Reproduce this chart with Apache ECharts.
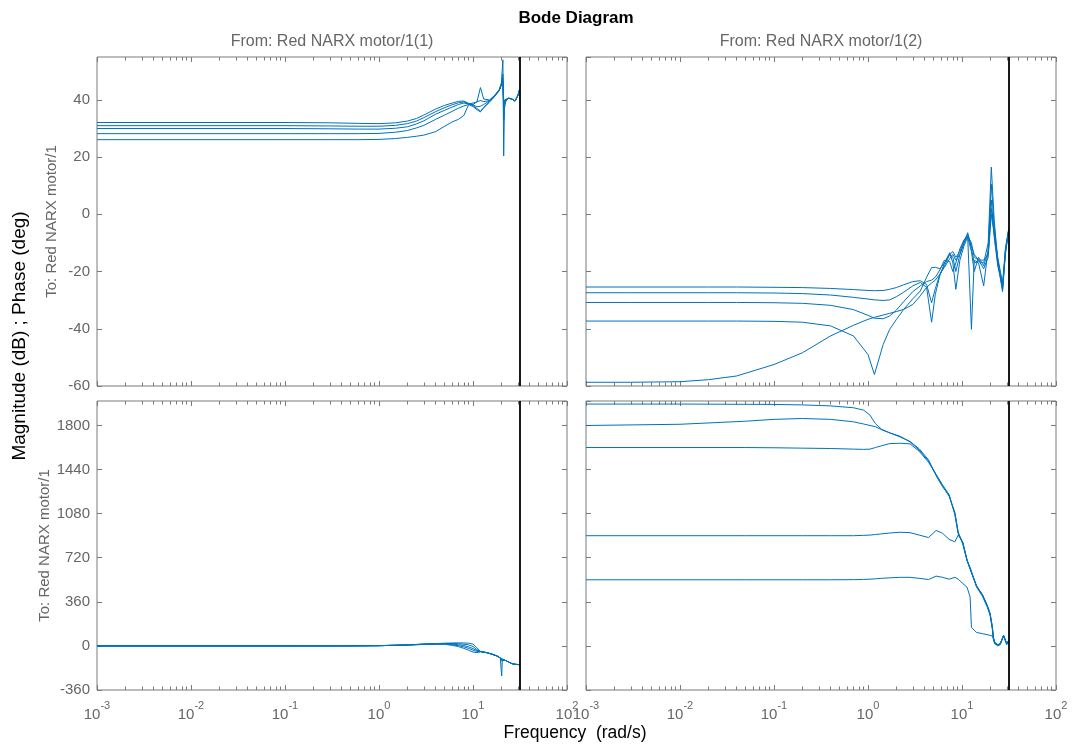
<!DOCTYPE html>
<html>
<head>
<meta charset="utf-8">
<script src="https://cdn.jsdelivr.net/npm/echarts@6/dist/echarts.min.js"></script>
<style>
  html, body { margin: 0; padding: 0; background: #fff; }
  #chart { width: 1074px; height: 744px; }
</style>
</head>
<body>
<div id="chart"></div>
<script>
// ---- Bode response of the NARX motor model: 5 linearised models, 2 inputs ----

// Nyquist frequency (rad/s), drawn as a vertical black line in every panel
const NYQUIST = 31.4159;

// Input 1 -> output: magnitude (dB)
const freqMag11 = [0.001, 0.01, 0.1, 0.3, 0.6, 1, 1.5, 2, 2.5, 3, 4, 5, 6, 7, 8, 9, 10, 11, 12, 13, 15, 17, 19, 20, 20.8, 21.2, 21.6, 22.5, 24, 26, 28, 30, 31.4];
const mag11a = [32.1, 32.1, 32.1, 32.0, 31.8, 31.7, 32.0, 32.6, 33.5, 34.7, 36.8, 38.1, 38.9, 39.5, 39.6, 38.8, 38.3, 37.6, 37.8, 38.4, 39.7, 41.5, 43.4, 45.5, 54.0, 20.4, 37.0, 40.0, 40.6, 40.3, 39.6, 41.5, 43.7];
const mag11b = [31.0, 31.0, 31.0, 30.9, 30.8, 30.8, 31.1, 31.7, 32.6, 33.8, 35.9, 37.3, 38.3, 39.0, 39.3, 38.6, 38.0, 37.0, 36.1, 37.2, 39.2, 41.2, 43.2, 45.0, 49.0, 33.0, 38.5, 39.8, 40.6, 40.3, 39.6, 41.5, 43.7];
const mag11c = [30.0, 30.0, 30.0, 29.9, 29.8, 29.8, 30.1, 30.6, 31.6, 32.7, 35.0, 36.4, 37.5, 38.4, 38.9, 38.6, 38.9, 39.3, 44.3, 40.3, 40.0, 41.6, 43.6, 45.7, 47.5, 37.0, 39.5, 39.9, 40.6, 40.3, 39.6, 41.5, 43.7];
const mag11d = [28.2, 28.2, 28.2, 28.2, 28.2, 28.3, 28.7, 29.3, 30.2, 31.1, 33.2, 34.7, 36.0, 37.1, 37.9, 38.4, 38.4, 39.3, 39.8, 39.4, 39.8, 41.5, 43.4, 45.3, 46.5, 38.5, 39.8, 39.8, 40.6, 40.3, 39.6, 41.5, 43.7];
const mag11e = [26.1, 26.1, 26.1, 26.1, 26.1, 26.2, 26.5, 26.9, 27.3, 27.7, 28.9, 30.8, 32.3, 33.2, 34.6, 38.4, 37.7, 36.6, 35.8, 37.4, 39.5, 41.3, 43.3, 45.2, 46.0, 39.0, 40.0, 39.9, 40.6, 40.3, 39.6, 41.5, 43.7];

// Input 2 -> output: magnitude (dB)
const freqMag12 = [0.001, 0.003, 0.01, 0.02, 0.04, 0.1, 0.2, 0.4, 0.7, 1.0, 1.17, 1.45, 1.7, 2.0, 2.4, 3.0, 3.6, 4.2, 4.75, 5.2, 5.8, 6.5, 7.4, 8.0, 8.6, 9.5, 10.5, 11.5, 12.6, 13.5, 15, 17, 19, 20.5, 22, 24, 27, 29, 31.4];
const mag12a = [-25.4, -25.4, -25.4, -25.4, -25.4, -25.5, -25.6, -25.9, -26.3, -26.6, -26.7, -26.6, -26.2, -25.6, -24.6, -23.5, -23.2, -24.5, -30.9, -26, -21, -18, -14, -15, -20, -14, -10, -6.4, -12, -17, -16.5, -17, -10, 16.5, -2, -16, -26.5, -14, -5.2];
const mag12b = [-27.4, -27.4, -27.4, -27.4, -27.4, -27.5, -27.7, -28.2, -29.0, -29.6, -29.9, -30.1, -29.9, -28.8, -27.2, -25.0, -23.8, -25.5, -37.7, -28, -21.5, -17, -13.4, -17, -26.2, -16, -11, -8, -40.2, -16, -17, -25, -12, 10.5, -4, -17, -27, -12, -5.5];
const mag12c = [-30.8, -30.8, -30.8, -30.8, -30.8, -30.9, -31.1, -31.8, -33.3, -35.3, -36.3, -36.5, -35.5, -33.5, -30.5, -27.0, -25.0, -23.5, -23.0, -22, -19.5, -16, -16.5, -20, -17, -12, -9, -8, -13, -20, -15, -18, -13, 5, -8, -18, -25, -13, -6];
const mag12d = [-37.3, -37.3, -37.3, -37.3, -37.3, -37.4, -37.7, -39.0, -42.5, -49.0, -56.0, -45.5, -40.2, -36.8, -33.2, -29.5, -26.8, -22, -18.6, -18.5, -19, -17, -14, -13, -15, -13, -9, -7, -11, -14, -16, -16, -14, 2, -6, -15, -24, -12, -5];
const mag12e = [-58.7, -58.7, -58.5, -57.8, -56.5, -52.5, -48.4, -42.5, -38.8, -36.7, -36.0, -35.2, -34.6, -34.0, -33.2, -31.5, -28.5, -25.5, -24.0, -23, -21, -18.5, -15.5, -14, -16, -14, -10, -7.5, -10, -15, -16, -19, -15, 0, -7, -16, -25.5, -13, -5.5];

// Input 1 -> output: phase (deg)
const freqPh11 = [0.001, 0.01, 0.1, 0.5, 1, 2, 3, 4, 5, 6, 7, 8, 9, 10, 11, 12, 14, 16, 18, 19.5, 20.2, 20.5, 21, 22, 24, 26, 28, 30, 31.4];
const ph11a = [0, 0, 0, 0.5, 2, 8, 15, 19, 22, 24, 25, 24, 22, 15, -15, -45, -55, -68, -82, -98, -245, -110, -112, -118, -132, -145, -150, -152, -153];
const ph11b = [0, 0, 0, 0.5, 2, 8, 15, 18, 20, 20, 18, 14, 8, -5, -30, -45, -55, -68, -82, -98, -120, -105, -110, -118, -132, -145, -150, -152, -153];
const ph11c = [0, 0, 0, 0.5, 2, 8, 14, 17, 18, 15, 10, 3, -8, -22, -38, -46, -55, -68, -82, -98, -118, -105, -110, -118, -132, -145, -150, -152, -153];
const ph11d = [0, 0, 0, 0.5, 2, 7, 13, 16, 16, 10, 2, -8, -20, -35, -45, -47, -55, -68, -82, -98, -116, -105, -110, -118, -132, -145, -150, -152, -153];
const ph11e = [0, 0, 0, 0.5, 2, 7, 12, 14, 13, 5, -6, -20, -35, -50, -55, -48, -55, -68, -82, -98, -114, -105, -110, -118, -132, -145, -150, -152, -153];

// Input 2 -> output: phase (deg)
const freqPh12 = [0.001, 0.01, 0.05, 0.1, 0.2, 0.4, 0.7, 0.9, 1.05, 1.2, 1.4, 1.7, 2.2, 2.8, 3.5, 4.4, 5.3, 6.2, 7.3, 8.4, 9.1, 10.2, 11.3, 12.2, 12.6, 14.3, 16.5, 18.5, 19.9, 21, 21.6, 22.3, 24, 25.5, 27.7, 29.9, 31.4];
const ph12a = [1975, 1975, 1973, 1972, 1968, 1960, 1945, 1925, 1885, 1815, 1768, 1740, 1712, 1666, 1600, 1510, 1400, 1310, 1220, 1090, 930, 830, 700, 630, 600, 493, 415, 330, 260, 150, 60, 25, 5, 15, 85, 15, 43];
const ph12b = [1800, 1810, 1835, 1850, 1857, 1850, 1830, 1812, 1800, 1790, 1765, 1740, 1706, 1670, 1610, 1520, 1390, 1300, 1230, 1080, 925, 840, 700, 640, 610, 480, 405, 320, 250, 140, 50, 20, 0, 10, 80, 10, 40];
const ph12c = [1620, 1620, 1620, 1618, 1615, 1612, 1607, 1605, 1607, 1620, 1635, 1652, 1655, 1650, 1590, 1500, 1400, 1315, 1235, 1070, 915, 845, 705, 630, 600, 485, 420, 335, 265, 160, 70, 30, 10, 20, 85, 20, 45];
const ph12d = [900, 900, 900, 900, 900, 900, 900, 903, 905, 910, 915, 922, 928, 925, 905, 885, 943, 920, 870, 850, 905, 845, 700, 630, 600, 485, 415, 330, 262, 155, 65, 28, 8, 18, 85, 18, 44];
const ph12e = [540, 540, 540, 540, 540, 540, 541, 543, 545, 548, 552, 556, 560, 560, 552, 542, 570, 560, 545, 560, 545, 510, 480, 400, 150, 110, 100, 92, 86, 80, 60, 16, 10, 16, 84, 20, 30];

// Axis ranges
const freqRange = [0.001, 100];
const magRange = { min: -60, max: 55, interval: 20 };
const phaseRange = { min: -360, max: 2000, interval: 360 };

// Text
const titleText = 'Bode Diagram';
const inputNames = ['From: Red NARX motor/1(1)', 'From: Red NARX motor/1(2)'];
const outputName = 'To: Red NARX motor/1';
const yTitle = 'Magnitude (dB) ; Phase (deg)';
const xTitle = 'Frequency  (rad/s)';

// ---- styling ----
const FONT = '"Liberation Sans", Arial, Helvetica, sans-serif';
const FRAME = '#7a7a7a';
const TEXT_GRAY = '#666666';
const BLUE = '#0072BD';

const gridBoxes = [
  { left: 97, top: 57, width: 470, height: 329 },
  { left: 586, top: 57, width: 470, height: 329 },
  { left: 97, top: 401, width: 470, height: 289 },
  { left: 586, top: 401, width: 470, height: 289 }
];

const panels = [
  { freq: freqMag11, curves: [mag11a, mag11b, mag11c, mag11d, mag11e], range: magRange },
  { freq: freqMag12, curves: [mag12a, mag12b, mag12c, mag12d, mag12e], range: magRange },
  { freq: freqPh11, curves: [ph11a, ph11b, ph11c, ph11d, ph11e], range: phaseRange },
  { freq: freqPh12, curves: [ph12a, ph12b, ph12c, ph12d, ph12e], range: phaseRange }
];

// minor log ticks (2..9 in every decade), expressed in log10 units
const minorTickPos = [];
for (let d = -3; d < 2; d++) {
  for (let k = 2; k <= 9; k++) minorTickPos.push(d + Math.log10(k));
}

const tickStyle = { color: FRAME, width: 1 };

const grid = gridBoxes.map(b => Object.assign({
  show: true, borderColor: FRAME, borderWidth: 1, backgroundColor: 'transparent', containLabel: false
}, b));

const xAxis = [];
const yAxis = [];
const series = [];

panels.forEach((p, g) => {
  const bottomRow = g >= 2;
  const leftCol = g % 2 === 0;

  ['bottom', 'top'].forEach(pos => {
    xAxis.push({
      type: 'log', logBase: 10, gridIndex: g, position: pos,
      min: freqRange[0], max: freqRange[1],
      axisLine: { show: false, onZero: false },
      axisTick: { show: true, inside: true, length: 5, lineStyle: tickStyle },
      splitLine: { show: false },
      axisLabel: (bottomRow && pos === 'bottom') ? {
        show: true, margin: 10,
        formatter: v => '{b|10}{s|' + Math.round(Math.log10(v)) + '}',
        rich: {
          b: { fontSize: 15, fontFamily: FONT, color: TEXT_GRAY, lineHeight: 22, verticalAlign: 'bottom' },
          s: { fontSize: 11, fontFamily: FONT, color: TEXT_GRAY, lineHeight: 12, verticalAlign: 'top' }
        }
      } : { show: false }
    });
  });
  ['bottom', 'top'].forEach(pos => {
    xAxis.push({
      type: 'value', gridIndex: g, position: pos, min: -3, max: 2,
      axisLine: { show: false, onZero: false },
      axisTick: { show: true, inside: true, length: 3.5, lineStyle: tickStyle, customValues: minorTickPos },
      axisLabel: { show: false },
      splitLine: { show: false }
    });
  });

  ['left', 'right'].forEach(pos => {
    const showLabels = leftCol && pos === 'left';
    yAxis.push({
      type: 'value', gridIndex: g, position: pos,
      min: p.range.min, max: p.range.max, interval: p.range.interval,
      axisLine: { show: false, onZero: false },
      axisTick: { show: true, inside: true, length: 5, lineStyle: tickStyle },
      splitLine: { show: false },
      axisLabel: showLabels ? {
        show: true, margin: 7, color: TEXT_GRAY, fontSize: 15, fontFamily: FONT, showMaxLabel: false,
        formatter: v => String(v)
      } : { show: false },
      name: showLabels ? outputName : '',
      nameLocation: 'middle', nameRotate: 90, nameGap: 38,
      nameTextStyle: { color: TEXT_GRAY, fontSize: 15, fontFamily: FONT }
    });
  });

  p.curves.forEach((vals, k) => {
    const s = {
      type: 'line',
      xAxisIndex: 4 * g,
      yAxisIndex: 2 * g,
      data: p.freq.map((f, i) => [f, vals[i]]),
      showSymbol: false, symbol: 'none', silent: true,
      lineStyle: { color: BLUE, width: 1 },
      z: 3
    };
    if (k === 0) {
      s.markLine = {
        silent: true, symbol: ['none', 'none'], label: { show: false },
        lineStyle: { color: '#000', width: 1.8, type: 'solid' },
        emphasis: { disabled: true },
        data: [{ xAxis: NYQUIST }]
      };
    }
    series.push(s);
  });
});

const textEl = (x, y, text, size, color, extra) => ({
  type: 'text', x: x, y: y, silent: true,
  style: Object.assign({
    text: text, fontSize: size, fontFamily: FONT, fill: color,
    align: 'center', verticalAlign: 'middle'
  }, extra || {})
});

const graphic = [
  textEl(576, 18, titleText, 17, '#000', { fontWeight: 'bold' }),
  textEl(332, 42, inputNames[0], 16, TEXT_GRAY),
  textEl(821, 42, inputNames[1], 16, TEXT_GRAY),
  textEl(575, 733, xTitle, 17.5, '#000'),
  Object.assign(textEl(20, 336, yTitle, 19, '#000'), { rotation: Math.PI / 2 })
];

const chart = echarts.init(document.getElementById('chart'), null, { renderer: 'canvas' });
chart.setOption({
  animation: false,
  backgroundColor: '#ffffff',
  grid: grid,
  xAxis: xAxis,
  yAxis: yAxis,
  series: series,
  graphic: graphic
});
</script>
</body>
</html>
